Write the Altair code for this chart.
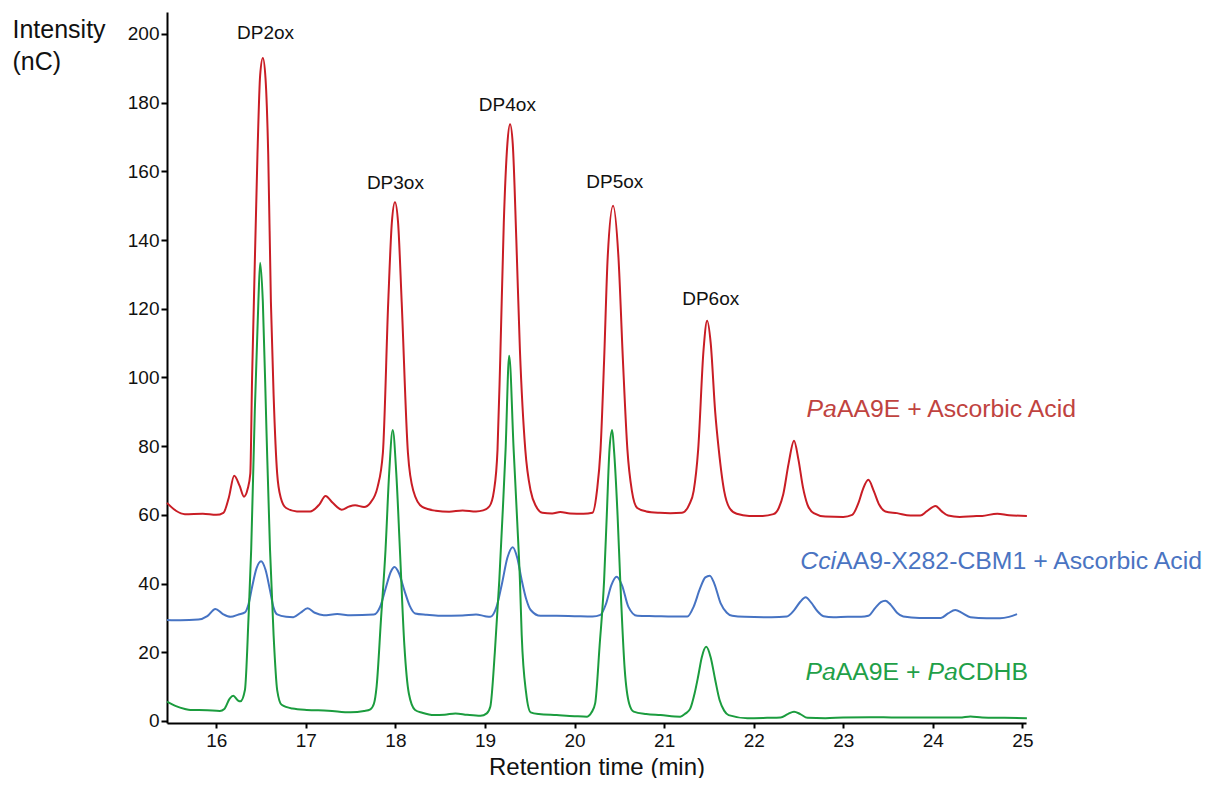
import altair as alt
import pandas as pd

# ---------------- data ----------------
# PaAA9E + Ascorbic Acid (red)
red_t = [15.45, 15.55, 15.65, 15.85, 16.0, 16.08, 16.14, 16.20, 16.26, 16.31, 16.35, 16.38,
         16.40, 16.42, 16.46, 16.49, 16.52, 16.55, 16.58, 16.61, 16.64, 16.68, 16.72, 16.78,
         16.9, 17.05, 17.15, 17.22, 17.30, 17.40, 17.48, 17.55, 17.65, 17.72, 17.80, 17.86,
         17.92, 17.96, 17.995, 18.03, 18.07, 18.14, 18.20, 18.30, 18.45, 18.6, 18.75, 18.9,
         18.98, 19.05, 19.10, 19.14, 19.17, 19.21, 19.25, 19.28, 19.31, 19.35, 19.39, 19.45,
         19.51, 19.57, 19.64, 19.75, 19.84, 19.95, 20.1, 20.2, 20.25, 20.29, 20.33, 20.37,
         20.43, 20.49, 20.54, 20.59, 20.64, 20.70, 20.8, 20.95, 21.07, 21.2, 21.28, 21.33,
         21.38, 21.44, 21.48, 21.52, 21.57, 21.61, 21.67, 21.73, 21.81, 21.95, 22.1, 22.22,
         22.28, 22.33, 22.39, 22.45, 22.50, 22.55, 22.60, 22.67, 22.8, 23.0, 23.1, 23.17,
         23.22, 23.28, 23.34, 23.40, 23.47, 23.6, 23.75, 23.86, 23.93, 24.03, 24.10, 24.17,
         24.3, 24.45, 24.55, 24.72, 24.85, 25.05]
red_v = [63.5, 61.2, 60.2, 60.3, 60.0, 60.6, 65.0, 71.4, 68.5, 65.3, 67.5, 72.0,
         100, 122, 165, 188, 193, 187, 165, 122, 95, 72, 65, 62.0,
         61.0, 61.0, 63.0, 65.5, 63.5, 61.5, 62.4, 62.8, 62.3, 63.5, 68.0, 78.0,
         122, 145, 151, 145, 122, 78, 67, 62.3, 61.2, 60.9, 61.3, 61.0,
         61.3, 62.5, 67, 79, 105, 145, 168, 173.7, 168, 140, 108, 79,
         67, 62.5, 60.6, 60.4, 60.8, 60.4, 60.3, 60.6, 67, 79, 105, 135,
         150, 135, 105, 79, 67, 62.0, 61.0, 60.6, 60.5, 60.6, 63.0, 67,
         79, 108, 116.5, 110, 90, 79, 67, 62, 60.3, 59.7, 59.7, 60.2,
         62, 66, 75, 81.6, 76, 68, 63, 60.5, 59.5, 59.4, 60.0, 63.5,
         67.5, 70.2, 67, 63, 61, 60.5, 59.8, 59.8, 61.0, 62.6, 61.0, 59.8,
         59.4, 59.6, 59.7, 60.3, 59.9, 59.7]

# CciAA9-X282-CBM1 + Ascorbic Acid (blue)
blue_t = [15.45, 15.6, 15.8, 15.9, 15.99, 16.07, 16.16, 16.25, 16.32, 16.36, 16.40, 16.45,
          16.50, 16.55, 16.60, 16.64, 16.68, 16.78, 16.86, 16.94, 17.02, 17.10, 17.2, 17.35,
          17.5, 17.76, 17.83, 17.89, 17.95, 17.99, 18.04, 18.10, 18.16, 18.22, 18.35, 18.5,
          18.75, 18.9, 19.0, 19.06, 19.13, 19.19, 19.25, 19.31, 19.36, 19.41, 19.46, 19.51,
          19.62, 19.8, 20.0, 20.2, 20.29, 20.35, 20.41, 20.47, 20.53, 20.60, 20.70, 20.9,
          21.1, 21.26, 21.33, 21.40, 21.46, 21.51, 21.56, 21.63, 21.70, 21.76, 21.9, 22.2,
          22.37, 22.45, 22.52, 22.58, 22.64, 22.71, 22.78, 22.89, 23.05, 23.2, 23.28, 23.36,
          23.42, 23.47, 23.53, 23.60, 23.67, 23.85, 24.09, 24.17, 24.25, 24.33, 24.42, 24.6,
          24.75, 24.85, 24.94]
blue_v = [29.4, 29.3, 29.5, 30.5, 32.6, 31.2, 30.3, 31.0, 31.6, 34.0, 39.0, 44.5,
          46.5, 44.0, 38.0, 33.0, 31.0, 30.3, 30.2, 31.5, 32.8, 31.5, 30.8, 31.1,
          30.8, 31.0, 33.3, 38.5, 43.5, 44.8, 43.0, 38.0, 33.5, 31.3, 30.9, 30.6,
          30.7, 31.0, 30.5, 30.3, 33.3, 40.0, 47.5, 50.6, 47.5, 41.0, 35.5, 32.3,
          30.6, 30.6, 30.5, 30.4, 30.9, 34.0, 39.5, 42.0, 39.5, 33.3, 30.6, 30.5,
          30.4, 30.4, 33.3, 38.5, 41.8, 42.3, 40.0, 34.3, 31.5, 30.6, 30.3, 30.2,
          30.4, 32.2, 34.7, 36.0, 34.5, 32.0, 30.5, 30.2, 30.3, 30.3, 30.6, 33.0,
          34.6, 35.0, 33.8, 31.5, 30.4, 30.0, 30.0, 31.3, 32.3, 31.4, 30.2, 29.9,
          29.9, 30.3, 31.1]

# PaAA9E + PaCDHB (green)
green_t = [15.45, 15.55, 15.65, 15.71, 15.9, 16.04, 16.09, 16.15, 16.19, 16.24, 16.27, 16.32,
           16.36, 16.39, 16.43, 16.47, 16.49, 16.52, 16.56, 16.60, 16.64, 16.68, 16.73, 16.85,
           17.01, 17.25, 17.5, 17.65, 17.72, 17.76, 17.79, 17.84, 17.89, 17.93, 17.97, 18.01,
           18.05, 18.10, 18.15, 18.22, 18.3, 18.43, 18.55, 18.67, 18.8, 18.95, 19.02, 19.06,
           19.11, 19.16, 19.20, 19.23, 19.27, 19.32, 19.36, 19.39, 19.41, 19.46, 19.51, 19.6,
           19.8, 20.0, 20.14, 20.19, 20.23, 20.28, 20.33, 20.36, 20.39, 20.42, 20.44, 20.48,
           20.51, 20.56, 20.61, 20.66, 20.8, 20.96, 21.18, 21.24, 21.29, 21.34, 21.38, 21.42,
           21.47, 21.52, 21.57, 21.62, 21.67, 21.72, 21.93, 22.15, 22.3, 22.38, 22.45, 22.52,
           22.6, 22.8, 23.0, 23.3, 23.6, 24.0, 24.3, 24.42, 24.55, 24.8, 25.05]
green_v = [5.6, 4.3, 3.5, 3.2, 3.1, 2.9, 3.5, 6.5, 7.3, 6.0, 5.7, 9.0,
           30, 50, 90, 122, 133.4, 122, 85, 50, 25, 9.0, 4.7, 3.6,
           3.2, 3.0, 2.5, 2.9, 3.4, 5.0, 10, 30, 50, 72, 84.7, 72,
           50, 22, 8.0, 3.2, 2.4, 1.7, 1.8, 2.2, 1.8, 1.5, 2.2, 4.2,
           20, 41, 62, 79, 106.3, 79, 58, 41, 25, 8.0, 2.5, 2.0,
           1.7, 1.4, 1.25, 2.5, 5.1, 22, 41, 60, 79, 84.7, 79, 60,
           41, 15, 5.0, 2.7, 2.0, 1.7, 1.25, 2.2, 3.5, 8.0, 13, 18.5,
           21.6, 18.5, 12, 6.0, 3.0, 1.7, 0.8, 0.9, 1.0, 2.0, 2.7, 2.0,
           0.9, 0.8, 1.0, 1.1, 1.0, 1.0, 1.0, 1.3, 1.0, 0.9, 0.8]

# peak labels
peak_labels = ["DP2ox", "DP3ox", "DP4ox", "DP5ox", "DP6ox"]
peak_label_t = [16.55, 18.0, 19.25, 20.45, 21.52]
peak_label_v = [200.4, 156.5, 179.3, 156.9, 122.8]

# series labels: (segments with italic flag), anchor position
series_names = ["PaAA9E + Ascorbic Acid", "CciAA9-X282-CBM1 + Ascorbic Acid", "PaAA9E + PaCDHB"]
series_segments = [
    [("Pa", True), ("AA9E + Ascorbic Acid", False)],
    [("Cci", True), ("AA9-X282-CBM1 + Ascorbic Acid", False)],
    [("Pa", True), ("AA9E + ", False), ("Pa", True), ("CDHB", False)],
]
series_label_t = [22.59, 22.52, 22.577]
series_label_v = [90.4, 46.2, 14.0]

line_colors = ["#c91d25", "#4673c3", "#1b9c3e"]
label_colors = ["#c0433f", "#4a74c2", "#1fa048"]

# ---------------- geometry ----------------
XMIN, XMAX = 15.45, 25.04
YMIN, YMAX = -0.6, 206.4
W, H = 859, 711
PX_PER_MIN = W / (XMAX - XMIN)
FONT = "Liberation Sans"
LABEL_SIZE = 24.8

# Arial / Liberation Sans advance widths (em)
ADV = {"P": .667, "a": .556, "A": .667, "9": .556, "E": .667, " ": .278, "+": .584,
       "s": .5, "c": .5, "o": .556, "r": .333, "b": .556, "i": .222, "d": .556,
       "C": .722, "-": .333, "X": .667, "2": .556, "8": .556, "B": .667, "M": .833,
       "1": .556, "D": .722, "H": .722}


def text_width(s, size):
    return sum(ADV.get(ch, .556) for ch in s) * size


frames = []
for name, t, v in zip(series_names, [red_t, blue_t, green_t], [red_v, blue_v, green_v]):
    frames.append(pd.DataFrame({"t": t, "v": v, "series": name}))
traces = pd.concat(frames, ignore_index=True)

xscale = alt.Scale(domain=[XMIN, XMAX], nice=False, zero=False)
yscale = alt.Scale(domain=[YMIN, YMAX], nice=False, zero=False)

lines = alt.Chart(traces).mark_line(strokeWidth=2, interpolate="monotone", clip=False).encode(
    x=alt.X("t:Q", scale=xscale,
            axis=alt.Axis(values=list(range(16, 26)), title="Retention time (min)",
                          format="d", grid=False, domainColor="black", domainWidth=2,
                          tickColor="black", tickWidth=2, tickSize=5,
                          labelFont=FONT, labelFontSize=19, labelColor="#111",
                          labelPadding=3, titleFont=FONT, titleFontSize=24,
                          titleFontWeight="normal", titleColor="#111", titlePadding=5)),
    y=alt.Y("v:Q", scale=yscale,
            axis=alt.Axis(values=list(range(0, 201, 10)),
                          labelExpr="datum.value % 20 == 0 ? datum.label : ''",
                          title=["Intensity", "(nC)"], grid=False, domainColor="black",
                          domainWidth=2, tickColor="black", tickWidth=2, tickSize=6,
                          labelFont=FONT, labelFontSize=19, labelColor="#111", labelPadding=2,
                          titleFont=FONT, titleFontSize=25, titleFontWeight="normal",
                          titleColor="#111", titleAngle=0, titleAlign="left",
                          titleBaseline="top", titleX=-155, titleY=5, titleLineHeight=32)),
    color=alt.Color("series:N", scale=alt.Scale(domain=series_names, range=line_colors),
                    legend=None),
    detail="series:N",
)

peaks_df = pd.DataFrame({"t": peak_label_t, "v": peak_label_v, "label": peak_labels})
peak_text = alt.Chart(peaks_df).mark_text(font=FONT, fontSize=19, color="#111",
                                          align="center", baseline="middle").encode(
    x=alt.X("t:Q", scale=xscale), y=alt.Y("v:Q", scale=yscale), text="label:N")

layers = [lines, peak_text]
for segs, t0, v0, col in zip(series_segments, series_label_t, series_label_v, label_colors):
    offset = 0.0
    for txt, ital in segs:
        df = pd.DataFrame({"t": [t0 + offset / PX_PER_MIN], "v": [v0], "txt": [txt]})
        layers.append(alt.Chart(df).mark_text(
            font=FONT, fontSize=LABEL_SIZE, color=col, align="left", baseline="middle",
            fontStyle="italic" if ital else "normal").encode(
            x=alt.X("t:Q", scale=xscale), y=alt.Y("v:Q", scale=yscale), text="txt:N"))
        offset += text_width(txt, LABEL_SIZE)

chart = alt.layer(*layers).properties(
    width=W, height=H,
    autosize=alt.AutoSizeParams(type="none"),
    padding={"left": 159, "top": 4, "right": 182, "bottom": 55},
).configure_view(stroke=None)

chart.save("out.html", embed_options={"renderer": "svg", "actions": False})
